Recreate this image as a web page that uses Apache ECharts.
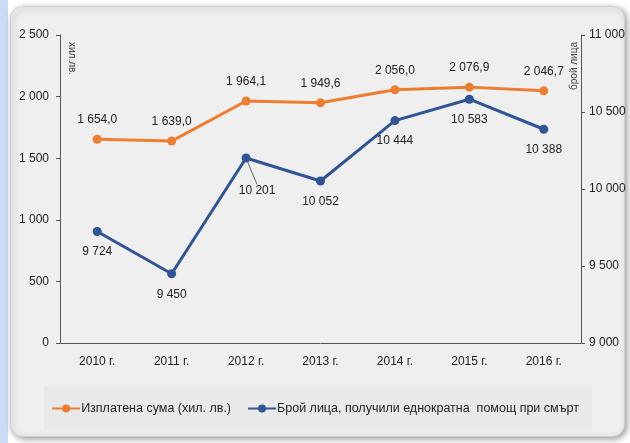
<!DOCTYPE html>
<html>
<head>
<meta charset="utf-8">
<script src="https://cdn.jsdelivr.net/npm/echarts@6/dist/echarts.min.js"></script>
<style>
  html, body { margin: 0; padding: 0; background: #fff; }
  #chart { width: 630px; height: 443px; }
</style>
</head>
<body>
<div id="chart"></div>
<script>
var years = ['2010', '2011', '2012', '2013', '2014', '2015', '2016'];
var paidSum = [1654.0, 1639.0, 1964.1, 1949.6, 2056.0, 2076.9, 2046.7];
var persons = [9724, 9450, 10201, 10052, 10444, 10583, 10388];
var leftTicks = [0, 500, 1000, 1500, 2000, 2500];
var rightTicks = [9000, 9500, 10000, 10500, 11000];

var FONT = '"Liberation Sans", Arial, sans-serif';

// 1 654,0 / 10 201
function fmt(v, dec) {
  var s = v.toFixed(dec).split('.');
  var i = s[0].replace(/\B(?=(\d{3})+(?!\d))/g, ' ');
  return dec ? i + ',' + s[1] : i;
}

var myChart = echarts.init(document.getElementById('chart'));

myChart.setOption({
  animation: false,
  textStyle: { fontFamily: FONT },
  graphic: [
    { type: 'rect', left: 0, top: 0, shape: { width: 8, height: 443 }, style: { fill: '#c9dcf3' }, z: -10 },
    {
      type: 'rect', left: 10, top: 6,
      shape: { width: 614, height: 430, r: 12 },
      style: { fill: '#efefef', stroke: '#d0d0d0', lineWidth: 1, shadowBlur: 6, shadowColor: 'rgba(0,0,0,0.4)', shadowOffsetX: 2, shadowOffsetY: 2 },
      z: -9
    },
    { type: 'rect', left: 44, top: 385, shape: { width: 548, height: 46 }, style: { fill: '#e9e9e9' }, z: -8 },
    { type: 'text', left: 67, top: 42, rotation: -Math.PI / 2, style: { text: 'хил.лв.', fontSize: 10, fill: '#444', fontFamily: FONT } },
    { type: 'text', left: 569, top: 42, rotation: Math.PI / 2, style: { text: 'брой лица', fontSize: 10, fill: '#444', fontFamily: FONT } }
  ],
  legend: {
    bottom: 23,
    left: 'center',
    itemWidth: 28,
    itemHeight: 10,
    itemGap: 16,
    textStyle: { fontSize: 12.5, color: '#222', fontFamily: FONT, padding: [0, 0, 0, -4] },
    data: ['Изплатена сума (хил. лв.)', 'Брой лица, получили еднократна  помощ при смърт']
  },
  grid: { left: 60, right: 49, top: 35, bottom: 100 },
  xAxis: {
    type: 'category',
    data: years,
    axisLine: { lineStyle: { color: '#555', width: 1 } },
    axisTick: { lineStyle: { color: '#555' }, length: 5 },
    axisLabel: { color: '#222', fontSize: 12, margin: 13, formatter: function (v) { return v + ' г.'; } }
  },
  yAxis: [{
    type: 'value',
    min: leftTicks[0],
    max: leftTicks[leftTicks.length - 1],
    interval: 500,
    splitLine: { show: false },
    axisLine: { show: true, lineStyle: { color: '#555' } },
    axisTick: { show: true, length: 4, lineStyle: { color: '#555' } },
    axisLabel: { color: '#222', fontSize: 12, margin: 11, formatter: function (v) { return fmt(v, 0); } }
  }, {
    type: 'value',
    min: rightTicks[0],
    max: rightTicks[rightTicks.length - 1],
    interval: 500,
    splitLine: { show: false },
    axisLine: { show: true, lineStyle: { color: '#555' } },
    axisTick: { show: true, length: 4, lineStyle: { color: '#555' } },
    axisLabel: { color: '#222', fontSize: 12, margin: 8, formatter: function (v) { return fmt(v, 0); } }
  }],
  series: [{
    name: 'Изплатена сума (хил. лв.)',
    type: 'line',
    yAxisIndex: 0,
    data: paidSum,
    symbol: 'circle',
    symbolSize: 9,
    color: '#ED7D31',
    lineStyle: { width: 3 },
    label: {
      show: true, position: 'top', distance: 9, color: '#222', fontSize: 12,
      formatter: function (p) { return fmt(p.value, 1); }
    }
  }, {
    name: 'Брой лица, получили еднократна  помощ при смърт',
    type: 'line',
    yAxisIndex: 1,
    data: persons.map(function (v, i) {
      // only the 2012 label is pulled away with a leader line
      return i === 2 ? { value: v, labelLine: { show: true } } : v;
    }),
    symbol: 'circle',
    symbolSize: 9,
    color: '#2F5597',
    lineStyle: { width: 3 },
    label: {
      show: true, position: 'bottom', distance: 10, color: '#222', fontSize: 12,
      formatter: function (p) { return fmt(p.value, 0); }
    },
    labelLine: { show: false, lineStyle: { color: '#666', width: 1 } },
    labelLayout: function (p) {
      if (p.dataIndex === 2) return { dx: 11, dy: 12 };
      return {};
    }
  }]
});
</script>
</body>
</html>
